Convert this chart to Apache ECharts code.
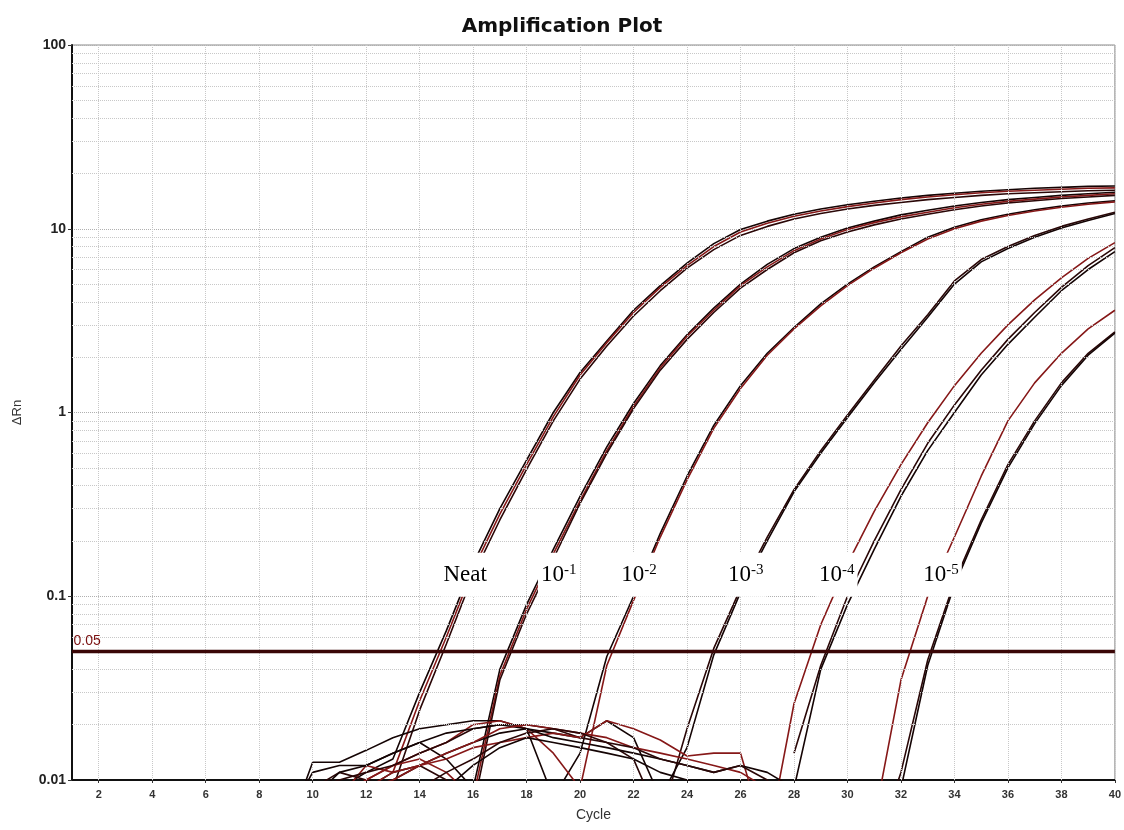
<!DOCTYPE html>
<html>
<head>
<meta charset="utf-8">
<title>Amplification Plot</title>
<script src="https://cdn.jsdelivr.net/npm/echarts@6/dist/echarts.min.js"></script>
<style>
html, body { margin: 0; padding: 0; background: #fff; }
#chart { width: 1124px; height: 830px; }
</style>
</head>
<body>
<div id="chart"></div>
<script>
// cycles shown for every curve (earlier cycles sit below 0.01 and are off the plot)
var cycles = [9, 10, 11, 12, 13, 14, 15, 16, 17, 18, 19, 20, 21, 22, 23, 24, 25, 26, 27, 28, 29, 30, 31, 32, 33, 34, 35, 36, 37, 38, 39, 40];

// Neat
var neatA = [0.004, 0.007, 0.009, 0.011, 0.013, 0.03, 0.065, 0.15, 0.3, 0.55, 1.0, 1.65, 2.45, 3.6, 4.9, 6.5, 8.3, 9.9, 11.0, 12.0, 12.8, 13.5, 14.1, 14.7, 15.2, 15.6, 16.0, 16.3, 16.6, 16.8, 17.0, 17.1];
var neatB = [0.005, 0.006, 0.008, 0.012, 0.011, 0.027, 0.06, 0.14, 0.28, 0.52, 0.95, 1.6, 2.4, 3.5, 4.8, 6.3, 8.0, 9.6, 10.7, 11.7, 12.5, 13.2, 13.8, 14.4, 14.9, 15.3, 15.7, 16.0, 16.2, 16.4, 16.6, 16.7];
var neatC = [0.003, 0.009, 0.011, 0.010, 0.009, 0.024, 0.055, 0.13, 0.26, 0.49, 0.9, 1.52, 2.3, 3.35, 4.6, 6.1, 7.7, 9.2, 10.3, 11.3, 12.1, 12.8, 13.4, 13.9, 14.4, 14.8, 15.2, 15.5, 15.7, 15.9, 16.1, 16.2];
// 10^-1
var d1A = [0.004, 0.008, 0.011, 0.012, 0.014, 0.016, 0.013, 0.009, 0.04, 0.09, 0.18, 0.35, 0.65, 1.12, 1.8, 2.65, 3.7, 5.0, 6.4, 7.8, 9.0, 10.1, 11.0, 11.9, 12.6, 13.3, 13.9, 14.4, 14.8, 15.2, 15.5, 15.8];
var d1B = [0.003, 0.005, 0.008, 0.010, 0.012, 0.013, 0.011, 0.008, 0.037, 0.085, 0.17, 0.33, 0.62, 1.08, 1.75, 2.6, 3.6, 4.9, 6.2, 7.6, 8.8, 9.9, 10.8, 11.6, 12.3, 13.0, 13.6, 14.1, 14.5, 14.9, 15.2, 15.5];
var d1C = [0.005, 0.006, 0.007, 0.009, 0.011, 0.012, 0.010, 0.007, 0.035, 0.08, 0.16, 0.32, 0.6, 1.05, 1.7, 2.5, 3.5, 4.75, 6.0, 7.4, 8.6, 9.6, 10.5, 11.3, 12.0, 12.7, 13.3, 13.8, 14.2, 14.6, 14.9, 15.2];
// 10^-2
var d2A = [0.005, 0.0125, 0.0125, 0.0145, 0.017, 0.019, 0.02, 0.021, 0.021, 0.019, 0.008, 0.014, 0.047, 0.1, 0.22, 0.45, 0.85, 1.4, 2.1, 2.9, 3.9, 5.0, 6.2, 7.5, 9.0, 10.2, 11.2, 12.0, 12.7, 13.3, 13.8, 14.2];
var d2B = [0.004, 0.006, 0.008, 0.01, 0.012, 0.014, 0.016, 0.02, 0.021, 0.019, 0.014, 0.009, 0.042, 0.095, 0.21, 0.43, 0.82, 1.35, 2.05, 2.85, 3.8, 4.9, 6.1, 7.4, 8.8, 10.0, 11.0, 11.8, 12.5, 13.1, 13.6, 14.0];
// 10^-3
var d3A = [0.005, 0.009, 0.01, 0.011, 0.012, 0.014, 0.016, 0.019, 0.02, 0.02, 0.019, 0.017, 0.016, 0.013, 0.006, 0.019, 0.052, 0.11, 0.21, 0.38, 0.62, 0.97, 1.5, 2.3, 3.4, 5.2, 6.8, 8.0, 9.2, 10.3, 11.3, 12.3];
var d3B = [0.003, 0.005, 0.007, 0.008, 0.01, 0.012, 0.014, 0.016, 0.018, 0.019, 0.018, 0.017, 0.021, 0.017, 0.008, 0.015, 0.048, 0.105, 0.2, 0.37, 0.6, 0.94, 1.45, 2.2, 3.3, 5.0, 6.6, 7.8, 9.0, 10.1, 11.1, 12.1];
// 10^-4
var d4A = [0.004, 0.006, 0.008, 0.009, 0.011, 0.012, 0.013, 0.015, 0.016, 0.017, 0.018, 0.017, 0.021, 0.019, 0.0165, 0.0135, 0.014, 0.014, 0.0045, 0.026, 0.07, 0.15, 0.29, 0.52, 0.88, 1.4, 2.1, 3.0, 4.1, 5.4, 6.9, 8.4];
var d4B = [null, null, null, null, null, null, null, null, null, null, null, null, null, null, null, null, null, null, null, 0.014, 0.042, 0.1, 0.2, 0.38, 0.68, 1.1, 1.7, 2.5, 3.5, 4.8, 6.3, 7.9];
var d4C = [0.006, 0.011, 0.012, 0.012, 0.014, 0.016, 0.018, 0.019, 0.02, 0.019, 0.017, 0.016, 0.015, 0.014, 0.013, 0.012, 0.011, 0.012, 0.011, 0.009, 0.04, 0.09, 0.18, 0.35, 0.62, 1.0, 1.6, 2.35, 3.3, 4.6, 6.0, 7.5];
// 10^-5
var d5A = [0.004, 0.007, 0.009, 0.009, 0.01, 0.012, 0.014, 0.016, 0.019, 0.02, 0.019, 0.018, 0.017, 0.015, 0.014, 0.013, 0.012, 0.011, 0.009, 0.006, 0.005, 0.005, 0.006, 0.035, 0.1, 0.21, 0.45, 0.9, 1.45, 2.1, 2.85, 3.6];
var d5B = [0.003, 0.005, 0.006, 0.008, 0.009, 0.009, 0.011, 0.013, 0.016, 0.018, 0.019, 0.018, 0.016, 0.015, 0.013, 0.012, 0.011, 0.012, 0.01, 0.006, 0.005, 0.005, 0.004, 0.011, 0.045, 0.12, 0.26, 0.52, 0.9, 1.45, 2.1, 2.75];
var d5C = [0.003, 0.004, 0.005, 0.006, 0.007, 0.008, 0.009, 0.012, 0.015, 0.017, 0.016, 0.015, 0.014, 0.013, 0.011, 0.01, 0.009, 0.008, 0.006, 0.005, 0.004, 0.004, 0.004, 0.009, 0.042, 0.115, 0.25, 0.5, 0.87, 1.4, 2.05, 2.7];

var thresholdValue = 0.05;
var xRange = [1, 40];
var xTickValues = [2, 4, 6, 8, 10, 12, 14, 16, 18, 20, 22, 24, 26, 28, 30, 32, 34, 36, 38, 40];

// dilution labels drawn on the curves
var labelBase = ['Neat', '10', '10', '10', '10', '10'];
var labelExp = ['-', '-1', '-2', '-3', '-4', '-5'];
var labelCycle = [15.7, 19.2, 22.2, 26.2, 29.6, 33.5];
var labelLevel = 0.131;

var curves = [neatA, neatB, neatC, d1A, d1B, d1C, d2A, d2B, d3A, d3B, d4A, d4B, d4C, d5A, d5B, d5C];
var lineColors = ['#140404', '#861818', '#2a0707'];

// minor log gridlines 2..9 of each decade
var minorY = [];
[0.01, 0.1, 1, 10].forEach(function(dec) {
  for (var k = 2; k <= 9; k++) minorY.push(+(dec * k).toPrecision(3));
});

var series = [];

series.push({
  type: 'line',
  data: [],
  silent: true,
  z: 1,
  markLine: {
    silent: true,
    symbol: 'none',
    animation: false,
    label: { show: false },
    lineStyle: { color: '#c8c8c8', type: 'dotted', width: 1 },
    data: xTickValues.map(function(v) { return { xAxis: v }; })
      .concat(minorY.map(function(v) { return { yAxis: v }; }))
  }
});

curves.forEach(function(vals, i) {
  series.push({
    type: 'line',
    data: cycles.map(function(c, j) { return [c, vals[j] == null ? '-' : vals[j]]; }),
    symbol: 'none',
    silent: true,
    clip: true,
    z: 3,
    lineStyle: { color: lineColors[i % 3], width: 1.6 }
  });
});

// threshold line
series.push({
  type: 'line',
  data: [[xRange[0], thresholdValue], [xRange[1], thresholdValue]],
  symbol: 'none',
  silent: true,
  z: 5,
  lineStyle: { color: '#3a0606', width: 3.5 }
});

// threshold value text
series.push({
  type: 'scatter',
  data: [[xRange[0], thresholdValue]],
  symbolSize: 1,
  itemStyle: { color: 'rgba(0,0,0,0)', opacity: 1 },
  silent: true,
  z: 6,
  label: {
    show: true,
    position: [2, -17],
    formatter: String(thresholdValue),
    color: '#7a1010',
    fontSize: 14,
    fontFamily: 'Liberation Sans'
  }
});

series.push({
  type: 'scatter',
  data: labelCycle.map(function(c) { return [c, labelLevel]; }),
  symbolSize: 1,
  itemStyle: { color: 'rgba(0,0,0,0)', opacity: 1 },
  silent: true,
  z: 10,
  label: {
    show: true,
    position: 'inside',
    backgroundColor: '#ffffff',
    padding: [10, 3, 10, 3],
    formatter: function(p) {
      var i = p.dataIndex;
      return labelExp[i] !== '-' ? '{b|' + labelBase[i] + '}{s|' + labelExp[i] + '}' : '{b|' + labelBase[i] + '}';
    },
    rich: {
      b: { fontSize: 23, fontFamily: 'Liberation Serif', color: '#000', lineHeight: 24 },
      s: { fontSize: 15, fontFamily: 'Liberation Serif', color: '#000', verticalAlign: 'top' }
    }
  }
});

var chart = echarts.init(document.getElementById('chart'));
chart.setOption({
  animation: false,
  backgroundColor: '#ffffff',
  title: {
    text: 'Amplification Plot',
    left: 'center',
    top: 12,
    textStyle: { fontSize: 20, fontWeight: 'bold', fontFamily: 'DejaVu Sans', color: '#111' }
  },
  grid: { left: 72, right: 6, top: 45, bottom: 50, show: true, borderColor: '#8a8a8a', borderWidth: 1 },
  xAxis: {
    type: 'value',
    min: xRange[0],
    max: xRange[1],
    name: 'Cycle',
    nameLocation: 'middle',
    nameGap: 28,
    nameTextStyle: { fontSize: 14, fontFamily: 'Liberation Sans', color: '#333' },
    axisLine: { lineStyle: { color: '#111', width: 2 } },
    axisTick: { customValues: xTickValues, length: 3, lineStyle: { color: '#333' } },
    axisLabel: { customValues: xTickValues, fontSize: 11, fontWeight: 'bold', fontFamily: 'Liberation Sans', color: '#333', margin: 9 },
    splitLine: { show: false }
  },
  yAxis: {
    type: 'log',
    logBase: 10,
    min: 0.01,
    max: 100,
    name: '\u0394Rn',
    nameLocation: 'middle',
    nameGap: 48,
    nameRotate: 90,
    nameTextStyle: { fontSize: 13, fontFamily: 'Liberation Sans', color: '#333' },
    axisLine: { show: true, lineStyle: { color: '#111', width: 2 } },
    axisTick: { show: true, length: 4, lineStyle: { color: '#333' } },
    axisLabel: { fontSize: 14, fontWeight: 'bold', fontFamily: 'Liberation Sans', color: '#222', margin: 6 },
    splitLine: { show: true, lineStyle: { color: '#b0b0b0', type: 'dotted', width: 1 } }
  },
  series: series
});
window.addEventListener('resize', function() { chart.resize(); });
</script>
</body>
</html>
